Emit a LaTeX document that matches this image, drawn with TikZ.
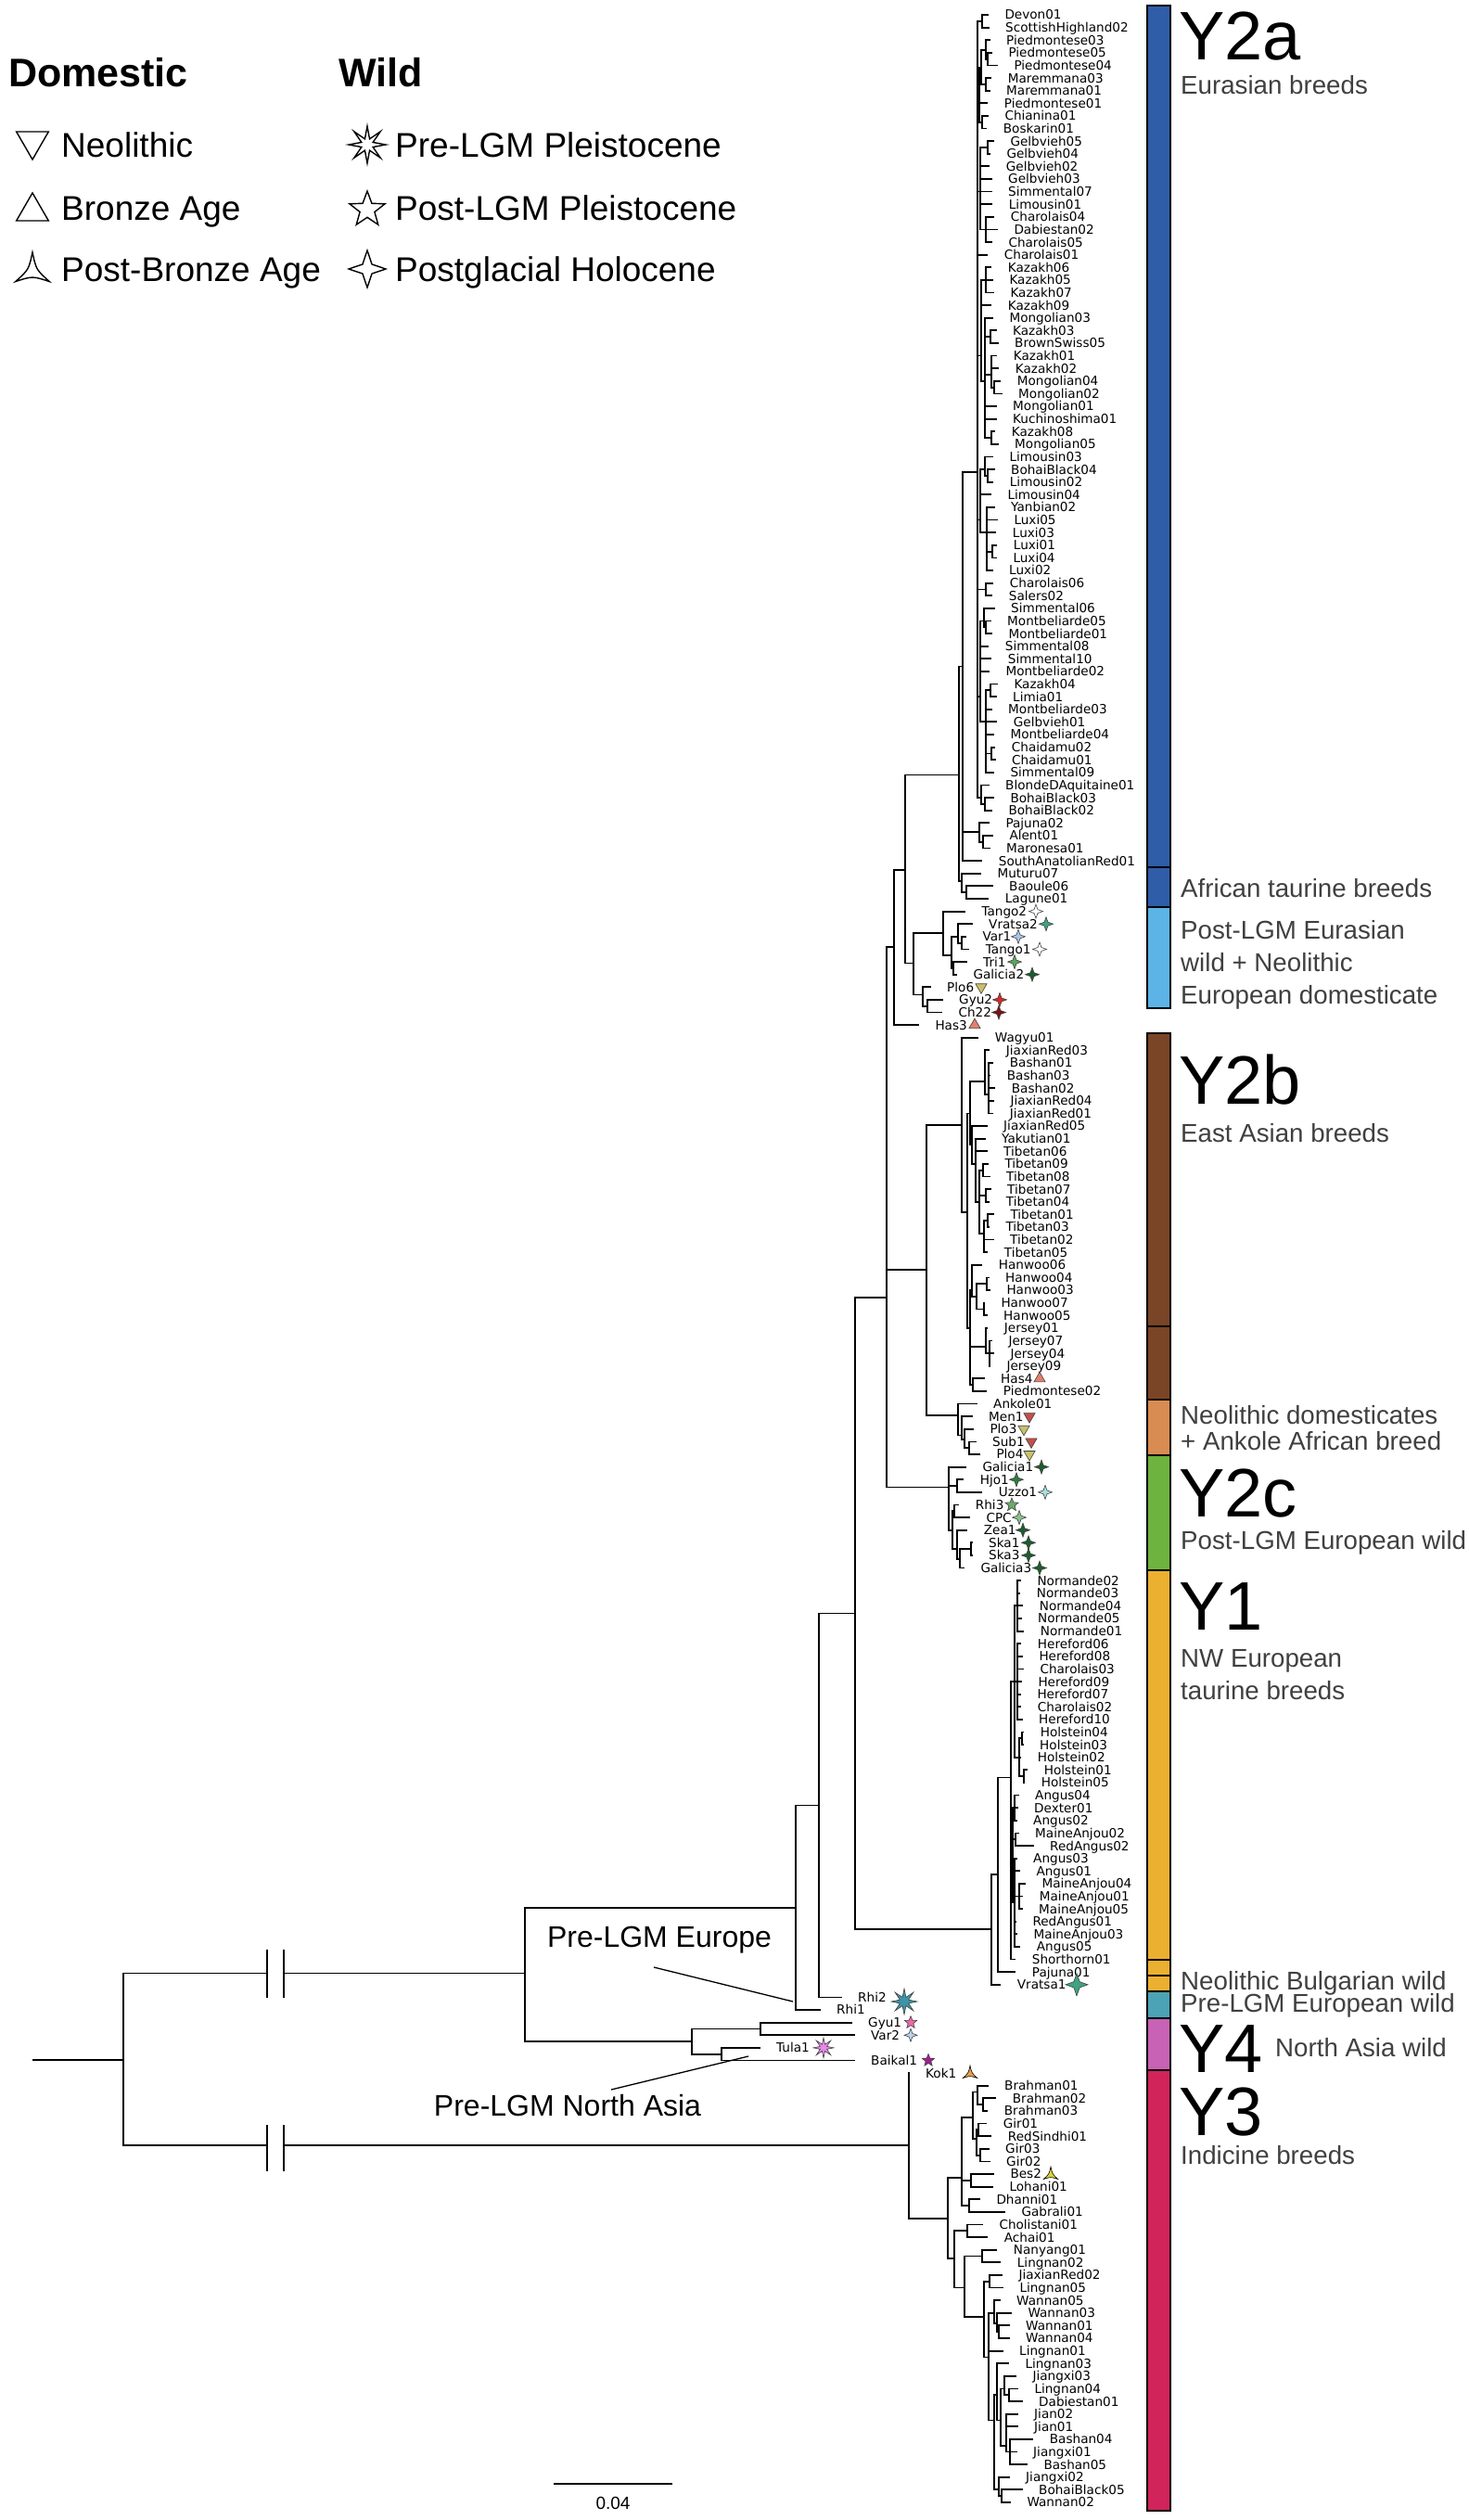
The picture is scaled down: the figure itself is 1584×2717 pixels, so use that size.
\documentclass[tikz,border=0pt]{standalone}
\usepackage{fontspec}
\setmainfont{Liberation Sans}
\newfontfamily\leaffont{DejaVu Sans}
\usetikzlibrary{shapes.geometric}
\definecolor{cYa}{HTML}{2F5DA8}
\definecolor{cLB}{HTML}{5BB4E5}
\definecolor{cBr}{HTML}{7A4527}
\definecolor{cNeo}{HTML}{D98C52}
\definecolor{cYc}{HTML}{6DB33F}
\definecolor{cYone}{HTML}{EBB030}
\definecolor{cTeal}{HTML}{4BA3B5}
\definecolor{cPink}{HTML}{C862B4}
\definecolor{cYthree}{HTML}{D0245A}
\definecolor{gtxt}{HTML}{404040}
\definecolor{mVr}{HTML}{3FA37F}
\definecolor{mVar}{HTML}{A9C6E8}
\definecolor{mTri}{HTML}{5CA55C}
\definecolor{mGal}{HTML}{1E5C2C}
\definecolor{mOl}{HTML}{C9C168}
\definecolor{mRed}{HTML}{D42A2A}
\definecolor{mDRed}{HTML}{7A1414}
\definecolor{mSal}{HTML}{E2806E}
\definecolor{mBrick}{HTML}{C0504D}
\definecolor{mHjo}{HTML}{2E7D3E}
\definecolor{mUz}{HTML}{A5E0E0}
\definecolor{mRhiT}{HTML}{6BAA6B}
\definecolor{mCPC}{HTML}{8DC28D}
\definecolor{mRhiB}{HTML}{3C95A8}
\definecolor{mGyu}{HTML}{EE6AA7}
\definecolor{mVarB}{HTML}{BDD3EC}
\definecolor{mTula}{HTML}{E58AE5}
\definecolor{mBaik}{HTML}{9E1F8E}
\definecolor{mKok}{HTML}{E8A04E}
\definecolor{mBes}{HTML}{D8D43E}
\tikzset{
  br/.style={line width=1.8pt},
  thinln/.style={line width=1.3pt},
  leaf/.style={anchor=west, inner sep=0pt, text height=9.9pt, text depth=0pt,
    font=\leaffont\fontsize{13.6pt}{14pt}\selectfont},
  mkbase/.style={inner sep=0pt, draw=black!75, line width=0.6pt},
  mkfour/.style={mkbase, star, star points=4, star point ratio=2.7, minimum size=15pt},
  mkfive/.style={mkbase, star, star points=5, star point ratio=2.3, minimum size=15pt},
  mkeight/.style={mkbase, star, star points=8, star point ratio=2.8, minimum size=22pt},
  mkup/.style={mkbase, regular polygon, regular polygon sides=3, minimum size=14pt},
  mkdown/.style={mkup, shape border rotate=180},
  legsym/.style={inner sep=0pt, draw=black, line width=1.4pt, fill=white},
  legtxt/.style={anchor=west, inner sep=0pt, text height=26.5pt, text depth=0pt,
    font=\fontsize{37pt}{40pt}\selectfont},
  hdr/.style={anchor=west, inner sep=0pt, text height=31pt, text depth=0pt,
    font=\bfseries\fontsize{43pt}{46pt}\selectfont},
  bigY/.style={anchor=west, inner sep=0pt, text height=53pt, text depth=0pt,
    font=\fontsize{74pt}{78pt}\selectfont},
  grey/.style={anchor=west, inner sep=0pt, text height=19.8pt, text depth=0pt, text=gtxt,
    font=\fontsize{27.7pt}{30pt}\selectfont},
  treelbl/.style={inner sep=0pt, text height=23pt, text depth=0pt,
    font=\fontsize{32pt}{34pt}\selectfont},
  bar/.style={line width=1.6pt, draw=black}
}
\newcommand\Lf[4]{%
  \pgfmathsetmacro\yy{16+13.614*#1}%
  \coordinate (t#3) at ({#2-17.5},\yy);%
  \node[leaf] (#3) at (#2,\yy) {#3};%
  \draw[br] (#4) |- (t#3);%
}
\newcommand\Nd[4]{%
  \pgfmathsetmacro\yy{16+13.614*#3}%
  \coordinate (#1) at (#2,\yy);%
  \draw[br] (#4) |- (#1);%
}
\newcommand\Mk[4]{%
  \pgfmathsetmacro\yy{16+13.614*#3}%
  \node[#4] (m#1) at (#2,\yy) {};%
}
\newcommand\TriS[6]{% name, x, y(px), radius, fill, line width
  \coordinate (#1) at (#2,#3);%
  \begin{scope}[shift={(#1)}]
    \filldraw[fill=#5, draw=black, line width=#6] (90:#4pt) .. controls (150:0.22*#4pt) .. (210:#4pt)
      .. controls (270:0.22*#4pt) .. (330:#4pt) .. controls (30:0.22*#4pt) .. cycle;
  \end{scope}%
}
\begin{document}
\begin{tikzpicture}[x=1pt,y=-1pt]
\fill[white] (0,0) rectangle (1584,2717);
\path[use as bounding box] (0,0) rectangle (1584,2717);

% ---------------- legend ----------------
\node[hdr] (hDom) at (9,78) {Domestic};
\node[hdr] (hWild) at (365,78) {Wild};
\node[legsym, regular polygon, regular polygon sides=3, shape border rotate=180, minimum size=40pt] (sNeo) at (35,152) {};
\node[legsym, regular polygon, regular polygon sides=3, minimum size=40pt] (sBro) at (35,228) {};
\TriS{sPost}{35}{293}{21}{white}{1.4pt}
\node[legtxt] (tNeo) at (66,156) {Neolithic};
\node[legtxt] (tBro) at (66,224) {Bronze Age};
\node[legtxt] (tPost) at (66,290) {Post-Bronze Age};
\node[legsym, star, star points=8, star point ratio=3, minimum size=40pt] (sPre) at (396,156) {};
\node[legsym, star, star points=5, star point ratio=2.4, minimum size=40pt] (sPostL) at (396,226) {};
\node[legsym, star, star points=4, star point ratio=2.8, minimum size=40pt] (sHol) at (396,290) {};
\node[legtxt] (tPre) at (426,156) {Pre-LGM Pleistocene};
\node[legtxt] (tPostL) at (426,224) {Post-LGM Pleistocene};
\node[legtxt] (tHol) at (426,290) {Postglacial Holocene};

% ---------------- colour bars ----------------
\draw[bar, fill=cYa] (1237,6) rectangle (1262,935);
\draw[bar, fill=cYa] (1237,935) rectangle (1262,978);
\draw[bar, fill=cLB] (1237,978) rectangle (1262,1087);
\draw[bar, fill=cBr] (1237,1114) rectangle (1262,1430);
\draw[bar, fill=cBr] (1237,1430) rectangle (1262,1509);
\draw[bar, fill=cNeo] (1237,1509) rectangle (1262,1569);
\draw[bar, fill=cYc] (1237,1569) rectangle (1262,1693);
\draw[bar, fill=cYone] (1237,1693) rectangle (1262,2113);
\draw[bar, fill=cYone] (1237,2113) rectangle (1262,2130);
\draw[bar, fill=cYone] (1237,2130) rectangle (1262,2147);
\draw[bar, fill=cTeal] (1237,2147) rectangle (1262,2176);
\draw[bar, fill=cPink] (1237,2176) rectangle (1262,2232);
\draw[bar, fill=cYthree] (1237,2232) rectangle (1262,2707);

% ---------------- clade labels ----------------
\node[bigY] (lY2a) at (1271,38) {Y2a};
\node[grey] (gEur) at (1273,92) {Eurasian breeds};
\node[grey] (gAfr) at (1273,958) {African taurine breeds};
\node[grey] (gPL1) at (1273,1003) {Post-LGM Eurasian};
\node[grey] (gPL2) at (1273,1038) {wild + Neolithic};
\node[grey] (gPL3) at (1273,1073) {European domesticate};
\node[bigY] (lY2b) at (1271,1164) {Y2b};
\node[grey] (gEA) at (1273,1222) {East Asian breeds};
\node[grey] (gNeo1) at (1273,1526) {Neolithic domesticates};
\node[grey] (gNeo2) at (1273,1554) {+ Ankole African breed};
\node[bigY] (lY2c) at (1271,1609) {Y2c};
\node[grey] (gPLE) at (1273,1661) {Post-LGM European wild};
\node[bigY] (lY1) at (1271,1731) {Y1};
\node[grey] (gNW1) at (1273,1788) {NW European};
\node[grey] (gNW2) at (1273,1823) {taurine breeds};
\node[grey] (gNBW) at (1273,2136) {Neolithic Bulgarian wild};
\node[grey] (gPEW) at (1273,2160) {Pre-LGM European wild};
\node[bigY] (lY4) at (1271,2208) {Y4};
\node[grey] (gNAW) at (1375,2208) {North Asia wild};
\node[bigY] (lY3) at (1271,2276) {Y3};
\node[grey] (gInd) at (1273,2324) {Indicine breeds};

% ---------------- backbone ----------------
\coordinate (R0) at (35,2221);
\coordinate (N0) at (133,2221);
\draw[br] (R0) -- (N0);
\Nd{NA}{566}{155.1}{N0}
\Nd{NY3}{980}{168.7}{N0}
% break marks
\fill[white] (289,2120) rectangle (305,2136);
\fill[white] (289,2305) rectangle (305,2321);
\draw[thinln] (288,2102) -- (288,2154) (306,2102) -- (306,2154);
\draw[thinln] (288,2291) -- (288,2341) (306,2291) -- (306,2341);

\Nd{NE}{858}{149.9}{NA}
\Nd{NNA}{746}{160.5}{NA}
\Nd{NGV}{820}{159.5}{NNA}
\Nd{NTB}{778}{161.5}{NNA}
\Nd{NE2}{883}{141.8}{NE}
\Nd{NY12}{922}{126.6}{NE2}
\Nd{NY2}{956}{101.6}{NY12}
\Nd{NY1o}{1069}{151.6}{NY12}
\Nd{NY1p}{1076}{147.3}{NY1o}
\Nd{NY1}{1090}{139.6}{NY1p}
% Y1
\Nd{NY1a}{1094}{132}{NY1}
\Nd{NNo}{1097}{126}{NY1a}
\Nd{NHe}{1097}{132}{NY1a}
\Nd{NHo}{1099}{138}{NY1a}
\Nd{NHo2}{1102}{136.5}{NHo}
\Nd{NHo3}{1104}{139.5}{NHo}
\Nd{NY1b}{1092}{147.5}{NY1}
\Nd{NAn1}{1094}{142}{NY1b}
\Nd{NAn2}{1095}{144.5}{NY1b}
\Nd{NAn3}{1094}{149.5}{NY1b}
\Nd{NMA}{1099}{149}{NAn3}
% Y2 complex
\Nd{NB}{964}{73.8}{NY2}
\Nd{NY2bN}{999}{99.4}{NY2}
\Nd{NY2c}{1023}{116.6}{NY2}
\Nd{NC}{976}{67.7}{NB}
\Nd{NEa}{1034}{60.2}{NC}
\Nd{ND}{985}{75.1}{NC}
\Nd{NW}{1017}{72.7}{ND}
\Nd{NPG}{995}{77.6}{ND}
\Nd{NGC}{1000}{78.5}{NPG}
\Nd{NW2}{1026}{74.5}{NW}
\Nd{NW3}{1033}{73}{NW2}
\Nd{NW4}{1028}{75.5}{NW2}
\Nd{NW5}{1037}{73.5}{NW3}
\Nd{NF}{1038}{51.6}{NEa}
\Nd{NAf}{1037}{68.6}{NEa}
\Nd{NAf2}{1042}{69.5}{NAf}
\Nd{NPAM}{1056}{64.7}{NF}
\Nd{NAM}{1060}{65.5}{NPAM}
\Nd{NG}{1054}{36.2}{NF}
\Nd{NDS}{1059}{0.5}{NG}
\Nd{NGa}{1056}{6.5}{NG}
\Nd{NPM}{1058}{4.2}{NGa}
\Nd{NP}{1063}{2.8}{NPM}
\Nd{NP2}{1065}{3.5}{NP}
\Nd{NM}{1063}{5.5}{NPM}
\Nd{NCB}{1059}{8.5}{NGa}
\Nd{NGb}{1057}{14}{NG}
\Nd{NGv2}{1065}{10.5}{NGb}
\Nd{NCD}{1063}{17}{NGb}
\Nd{NGc}{1058}{27}{NG}
\Nd{NK1}{1063}{21}{NGc}
\Nd{NK2}{1062}{29}{NGc}
\Nd{NKB}{1068}{25.5}{NK2}
\Nd{NKM}{1069}{28.5}{NK2}
\Nd{NMM}{1072}{29.5}{NKM}
\Nd{NKM5}{1069}{33.5}{NK2}
\Nd{NGd}{1057}{40}{NG}
\Nd{NLB}{1062}{36}{NGd}
\Nd{NBL2}{1065}{36.5}{NLB}
\Nd{NYL}{1064}{41}{NGd}
\Nd{NLx}{1070}{42.5}{NYL}
\Nd{NGe}{1063}{45.5}{NG}
\Nd{NGf}{1057}{54}{NG}
\Nd{NSM}{1061}{48}{NGf}
\Nd{NSM2}{1063}{48.5}{NSM}
\Nd{NKL}{1063}{56}{NGf}
\Nd{NKL2}{1068}{53.5}{NKL}
\Nd{NCh}{1069}{58.5}{NKL}
\Nd{NGg}{1058}{62}{NG}
\Nd{NBB}{1062}{62.5}{NGg}
% Y2b + Neolithic
\Nd{NY2b}{1037}{87.9}{NY2bN}
\Nd{NNeo}{1033}{110.9}{NY2bN}
\Nd{NNeo2}{1037}{112.5}{NNeo}
\Nd{NNeo3}{1040}{112.8}{NNeo2}
\Nd{NNeo4}{1045}{113.5}{NNeo3}
\Nd{NY2b2}{1043}{94.8}{NY2b}
\Nd{NA1}{1046}{87}{NY2b2}
\Nd{NA2}{1046}{104}{NY2b2}
\Nd{NJX}{1062}{84.5}{NA1}
\Nd{NJX2}{1066}{85.5}{NJX}
\Nd{NTi}{1048}{89.5}{NA1}
\Nd{NTi2}{1052}{91}{NTi}
\Nd{NTi3}{1056}{94}{NTi2}
\Nd{NT98}{1060}{91.5}{NTi3}
\Nd{NT74}{1063}{93.5}{NTi3}
\Nd{NT1}{1061}{96.5}{NTi3}
\Nd{NT13}{1065}{95.5}{NT1}
\Nd{NHw}{1048}{101}{NA2}
\Nd{NHw2}{1053}{101.5}{NHw}
\Nd{NHw3}{1064}{100.5}{NHw2}
\Nd{NHw4}{1061}{102.5}{NHw2}
\Nd{NJe}{1063}{105.5}{NA2}
\Nd{NJe2}{1067}{106}{NJe}
\Nd{NHP}{1049}{108.5}{NA2}
% Y2c
\Nd{NHU}{1032}{116.5}{NY2c}
\Nd{NY2c2}{1027}{120}{NY2c}
\Nd{NRC}{1029}{118.5}{NY2c2}
\Nd{NZS}{1032}{121.5}{NY2c2}
\Nd{NSG}{1035}{122.3}{NZS}
\Nd{NSk}{1047}{121.5}{NSG}
% Y3
\Nd{NY3b}{1022}{174.5}{NY3}
\Nd{NInd}{1037}{171.3}{NY3b}
\Nd{NBG}{1049}{166.5}{NInd}
\Nd{NBr}{1054}{164.5}{NBG}
\Nd{NBr2}{1060}{165.5}{NBr}
\Nd{NGir}{1053}{168.2}{NBG}
\Nd{NGr1}{1055}{167.5}{NGir}
\Nd{NGr2}{1057}{169.5}{NGir}
\Nd{NBes}{1047}{171.5}{NInd}
\Nd{NDG}{1045}{173.5}{NInd}
\Nd{NChin}{1029}{177.7}{NY3b}
\Nd{NCA}{1043}{175.5}{NChin}
\Nd{NCh2}{1040}{180}{NChin}
\Nd{NNL}{1059}{177.5}{NCh2}
\Nd{NCh3}{1061}{182.3}{NCh2}
\Nd{NJL}{1067}{179.5}{NCh3}
\Nd{NCh4}{1066}{185.5}{NCh3}
\Nd{NWn}{1072}{182}{NCh4}
\Nd{NW2n}{1075}{182.8}{NWn}
\Nd{NW3n}{1077}{183.5}{NW2n}
\Nd{NL}{1072}{190.5}{NCh4}
\Nd{NL2}{1075}{188.5}{NL}
\Nd{NL3}{1079}{190.5}{NL2}
\Nd{NJL4}{1083}{188}{NL3}
\Nd{NLD}{1088}{188.5}{NJL4}
\Nd{NJJ}{1085}{192.5}{NL3}
\Nd{NBJ}{1089}{193}{NJJ}
\Nd{NJB}{1077}{196}{NL}
\Nd{NJB2}{1080}{196.5}{NJB}

% ---------------- leaves ----------------
\Lf{0}{1083.3}{Devon01}{NDS}
\Lf{1}{1084}{ScottishHighland02}{NDS}
\Lf{2}{1085}{Piedmontese03}{NP}
\Lf{3}{1087.3}{Piedmontese05}{NP2}
\Lf{4}{1093.3}{Piedmontese04}{NP2}
\Lf{5}{1086.7}{Maremmana03}{NM}
\Lf{6}{1085}{Maremmana01}{NM}
\Lf{7}{1082.7}{Piedmontese01}{NGa}
\Lf{8}{1083.3}{Chianina01}{NCB}
\Lf{9}{1081.7}{Boskarin01}{NCB}
\Lf{10}{1089.3}{Gelbvieh05}{NGv2}
\Lf{11}{1085.3}{Gelbvieh04}{NGv2}
\Lf{12}{1084.7}{Gelbvieh02}{NGb}
\Lf{13}{1087}{Gelbvieh03}{NGb}
\Lf{14}{1087}{Simmental07}{NGb}
\Lf{15}{1087.7}{Limousin01}{NGb}
\Lf{16}{1089.7}{Charolais04}{NCD}
\Lf{17}{1093.3}{Dabiestan02}{NCD}
\Lf{18}{1087.3}{Charolais05}{NCD}
\Lf{19}{1082.7}{Charolais01}{NG}
\Lf{20}{1086.7}{Kazakh06}{NK1}
\Lf{21}{1088.3}{Kazakh05}{NK1}
\Lf{22}{1089.3}{Kazakh07}{NK1}
\Lf{23}{1086.7}{Kazakh09}{NGc}
\Lf{24}{1088.3}{Mongolian03}{NK2}
\Lf{25}{1092}{Kazakh03}{NKB}
\Lf{26}{1094}{BrownSwiss05}{NKB}
\Lf{27}{1092.7}{Kazakh01}{NKM}
\Lf{28}{1094.7}{Kazakh02}{NKM}
\Lf{29}{1096.7}{Mongolian04}{NMM}
\Lf{30}{1098}{Mongolian02}{NMM}
\Lf{31}{1092}{Mongolian01}{NK2}
\Lf{32}{1092}{Kuchinoshima01}{NK2}
\Lf{33}{1090.7}{Kazakh08}{NKM5}
\Lf{34}{1094}{Mongolian05}{NKM5}
\Lf{35}{1088.3}{Limousin03}{NLB}
\Lf{36}{1090}{BohaiBlack04}{NBL2}
\Lf{37}{1088.7}{Limousin02}{NBL2}
\Lf{38}{1086.3}{Limousin04}{NGd}
\Lf{39}{1090}{Yanbian02}{NYL}
\Lf{40}{1093.3}{Luxi05}{NYL}
\Lf{41}{1091.7}{Luxi03}{NYL}
\Lf{42}{1092.7}{Luxi01}{NLx}
\Lf{43}{1092.3}{Luxi04}{NLx}
\Lf{44}{1088}{Luxi02}{NYL}
\Lf{45}{1088.7}{Charolais06}{NGe}
\Lf{46}{1087.7}{Salers02}{NGe}
\Lf{47}{1090}{Simmental06}{NSM}
\Lf{48}{1086}{Montbeliarde05}{NSM2}
\Lf{49}{1087.3}{Montbeliarde01}{NSM2}
\Lf{50}{1083.7}{Simmental08}{NGf}
\Lf{51}{1086.7}{Simmental10}{NGf}
\Lf{52}{1084.3}{Montbeliarde02}{NGf}
\Lf{53}{1093.3}{Kazakh04}{NKL2}
\Lf{54}{1092}{Limia01}{NKL2}
\Lf{55}{1087}{Montbeliarde03}{NKL}
\Lf{56}{1092.7}{Gelbvieh01}{NKL}
\Lf{57}{1089.3}{Montbeliarde04}{NKL}
\Lf{58}{1090.7}{Chaidamu02}{NCh}
\Lf{59}{1091}{Chaidamu01}{NCh}
\Lf{60}{1089.3}{Simmental09}{NKL}
\Lf{61}{1084}{BlondeDAquitaine01}{NGg}
\Lf{62}{1089.3}{BohaiBlack03}{NBB}
\Lf{63}{1087.3}{BohaiBlack02}{NBB}
\Lf{64}{1084.3}{Pajuna02}{NPAM}
\Lf{65}{1088.3}{Alent01}{NAM}
\Lf{66}{1085}{Maronesa01}{NAM}
\Lf{67}{1076.7}{SouthAnatolianRed01}{NF}
\Lf{68}{1075.3}{Muturu07}{NAf}
\Lf{69}{1088}{Baoule06}{NAf2}
\Lf{70}{1083.7}{Lagune01}{NAf2}
\Lf{71}{1058.3}{Tango2}{NW}
\Lf{72}{1066}{Vratsa2}{NW3}
\Lf{73}{1059.3}{Var1}{NW5}
\Lf{74}{1062.7}{Tango1}{NW5}
\Lf{75}{1060}{Tri1}{NW4}
\Lf{76}{1049.3}{Galicia2}{NW4}
\Lf{77}{1021}{Plo6}{NPG}
\Lf{78}{1034}{Gyu2}{NGC}
\Lf{79}{1033.3}{Ch22}{NGC}
\Lf{80}{1008.3}{Has3}{NB}
\Lf{81}{1072.7}{Wagyu01}{NY2b}
\Lf{82}{1084.7}{JiaxianRed03}{NJX}
\Lf{83}{1088.7}{Bashan01}{NJX2}
\Lf{84}{1085.7}{Bashan03}{NJX2}
\Lf{85}{1090.7}{Bashan02}{NJX2}
\Lf{86}{1089.3}{JiaxianRed04}{NJX2}
\Lf{87}{1088.7}{JiaxianRed01}{NJX2}
\Lf{88}{1082}{JiaxianRed05}{NTi}
\Lf{89}{1080}{Yakutian01}{NTi2}
\Lf{90}{1082}{Tibetan06}{NTi2}
\Lf{91}{1083.3}{Tibetan09}{NT98}
\Lf{92}{1085}{Tibetan08}{NT98}
\Lf{93}{1086}{Tibetan07}{NT74}
\Lf{94}{1084.7}{Tibetan04}{NT74}
\Lf{95}{1089.3}{Tibetan01}{NT13}
\Lf{96}{1084.3}{Tibetan03}{NT13}
\Lf{97}{1089}{Tibetan02}{NT1}
\Lf{98}{1082.7}{Tibetan05}{NT1}
\Lf{99}{1076.7}{Hanwoo06}{NHw}
\Lf{100}{1084}{Hanwoo04}{NHw3}
\Lf{101}{1085.3}{Hanwoo03}{NHw3}
\Lf{102}{1079.3}{Hanwoo07}{NHw4}
\Lf{103}{1082}{Hanwoo05}{NHw4}
\Lf{104}{1082.7}{Jersey01}{NJe}
\Lf{105}{1087.3}{Jersey07}{NJe2}
\Lf{106}{1089.3}{Jersey04}{NJe2}
\Lf{107}{1085.3}{Jersey09}{NJe2}
\Lf{108}{1079}{Has4}{NHP}
\Lf{109}{1081.7}{Piedmontese02}{NHP}
\Lf{110}{1071}{Ankole01}{NNeo}
\Lf{111}{1066}{Men1}{NNeo2}
\Lf{112}{1067.3}{Plo3}{NNeo3}
\Lf{113}{1070}{Sub1}{NNeo4}
\Lf{114}{1074.3}{Plo4}{NNeo4}
\Lf{115}{1059.3}{Galicia1}{NY2c}
\Lf{116}{1056.7}{Hjo1}{NHU}
\Lf{117}{1076.7}{Uzzo1}{NHU}
\Lf{118}{1051.7}{Rhi3}{NRC}
\Lf{119}{1063.3}{CPC}{NRC}
\Lf{120}{1060.7}{Zea1}{NZS}
\Lf{121}{1066}{Ska1}{NSk}
\Lf{122}{1066}{Ska3}{NSk}
\Lf{123}{1057.3}{Galicia3}{NSG}
\Lf{124}{1118.3}{Normande02}{NNo}
\Lf{125}{1117.7}{Normande03}{NNo}
\Lf{126}{1120.7}{Normande04}{NNo}
\Lf{127}{1119}{Normande05}{NNo}
\Lf{128}{1121.7}{Normande01}{NNo}
\Lf{129}{1118.7}{Hereford06}{NHe}
\Lf{130}{1120.3}{Hereford08}{NHe}
\Lf{131}{1121.3}{Charolais03}{NHe}
\Lf{132}{1119.3}{Hereford09}{NHe}
\Lf{133}{1118.3}{Hereford07}{NHe}
\Lf{134}{1118.7}{Charolais02}{NHe}
\Lf{135}{1120}{Hereford10}{NHe}
\Lf{136}{1121.7}{Holstein04}{NHo2}
\Lf{137}{1121}{Holstein03}{NHo2}
\Lf{138}{1118.7}{Holstein02}{NHo}
\Lf{139}{1125.7}{Holstein01}{NHo3}
\Lf{140}{1122.7}{Holstein05}{NHo3}
\Lf{141}{1116}{Angus04}{NAn1}
\Lf{142}{1115}{Dexter01}{NAn1}
\Lf{143}{1114}{Angus02}{NAn1}
\Lf{144}{1116}{MaineAnjou02}{NAn2}
\Lf{145}{1132}{RedAngus02}{NAn2}
\Lf{146}{1114}{Angus03}{NAn3}
\Lf{147}{1117.3}{Angus01}{NAn3}
\Lf{148}{1123.3}{MaineAnjou04}{NMA}
\Lf{149}{1120.7}{MaineAnjou01}{NMA}
\Lf{150}{1120}{MaineAnjou05}{NMA}
\Lf{151}{1113.3}{RedAngus01}{NAn3}
\Lf{152}{1114.3}{MaineAnjou03}{NAn3}
\Lf{153}{1117.7}{Angus05}{NAn3}
\Lf{154}{1112.7}{Shorthorn01}{NY1}
\Lf{155}{1112.7}{Pajuna01}{NY1p}
\Lf{156}{1096.7}{Vratsa1}{NY1o}
\Lf{157}{925}{Rhi2}{NE2}
\Lf{158}{902}{Rhi1}{NE}
\Lf{159}{936}{Gyu1}{NGV}
\Lf{160}{939}{Var2}{NGV}
\Lf{161}{837}{Tula1}{NTB}
\Lf{162}{939}{Baikal1}{NTB}
\Lf{163}{998}{Kok1}{NY3}
\Lf{164}{1083}{Brahman01}{NBr}
\Lf{165}{1091.7}{Brahman02}{NBr2}
\Lf{166}{1082.7}{Brahman03}{NBr2}
\Lf{167}{1081.7}{Gir01}{NGr1}
\Lf{168}{1086.7}{RedSindhi01}{NGr1}
\Lf{169}{1084}{Gir03}{NGr2}
\Lf{170}{1085}{Gir02}{NGr2}
\Lf{171}{1089.3}{Bes2}{NBes}
\Lf{172}{1088.3}{Lohani01}{NBes}
\Lf{173}{1074.3}{Dhanni01}{NDG}
\Lf{174}{1101.3}{Gabrali01}{NDG}
\Lf{175}{1077.3}{Cholistani01}{NCA}
\Lf{176}{1082.7}{Achai01}{NCA}
\Lf{177}{1092.7}{Nanyang01}{NNL}
\Lf{178}{1096.7}{Lingnan02}{NNL}
\Lf{179}{1098.3}{JiaxianRed02}{NJL}
\Lf{180}{1099.3}{Lingnan05}{NJL}
\Lf{181}{1096}{Wannan05}{NWn}
\Lf{182}{1108.3}{Wannan03}{NW2n}
\Lf{183}{1106}{Wannan01}{NW3n}
\Lf{184}{1106}{Wannan04}{NW3n}
\Lf{185}{1099}{Lingnan01}{NCh4}
\Lf{186}{1105.3}{Lingnan03}{NL2}
\Lf{187}{1113.3}{Jiangxi03}{NJL4}
\Lf{188}{1115.3}{Lingnan04}{NLD}
\Lf{189}{1120}{Dabiestan01}{NLD}
\Lf{190}{1115}{Jian02}{NJJ}
\Lf{191}{1115}{Jian01}{NJJ}
\Lf{192}{1131.7}{Bashan04}{NBJ}
\Lf{193}{1114}{Jiangxi01}{NBJ}
\Lf{194}{1125.3}{Bashan05}{NBJ}
\Lf{195}{1106}{Jiangxi02}{NJB}
\Lf{196}{1120}{BohaiBlack05}{NJB2}
\Lf{197}{1107.3}{Wannan02}{NJB2}

% ---------------- sample markers ----------------
\Mk{Tango2}{1117}{71}{mkfour,fill=white}
\Mk{Vratsa2}{1128}{72}{mkfour,fill=mVr}
\Mk{Var1}{1098}{73}{mkfour,fill=mVar}
\Mk{Tango1}{1121}{74}{mkfour,fill=white}
\Mk{Tri1}{1094}{75}{mkfour,fill=mTri}
\Mk{Galicia2}{1113}{76}{mkfour,fill=mGal}
\Mk{Plo6}{1058}{77}{mkdown,fill=mOl}
\Mk{Gyu2}{1078}{78}{mkfour,fill=mRed}
\Mk{Ch22}{1077}{79}{mkfour,fill=mDRed}
\Mk{Has3}{1051}{80}{mkup,fill=mSal}
\Mk{Has4}{1121}{108}{mkup,fill=mSal}
\Mk{Men1}{1110}{111}{mkdown,fill=mBrick}
\Mk{Plo3}{1104}{112}{mkdown,fill=mOl}
\Mk{Sub1}{1112}{113}{mkdown,fill=mBrick}
\Mk{Plo4}{1110}{114}{mkdown,fill=mOl}
\Mk{Galicia1}{1123}{115}{mkfour,fill=mGal}
\Mk{Hjo1}{1096}{116}{mkfour,fill=mHjo}
\Mk{Uzzo1}{1127}{117}{mkfour,fill=mUz}
\Mk{Rhi3}{1091}{118}{mkfive,fill=mRhiT}
\Mk{CPC}{1099}{119}{mkfour,fill=mCPC}
\Mk{Zea1}{1103}{120}{mkfour,fill=mGal}
\Mk{Ska1}{1109}{121}{mkfour,fill=mGal}
\Mk{Ska3}{1109}{122}{mkfour,fill=mGal}
\Mk{Galicia3}{1121}{123}{mkfour,fill=mGal}
\Mk{Vratsa1}{1161}{156}{mkfour,fill=mVr,minimum size=24pt}
\node[mkeight, fill=mRhiB, minimum size=28pt] (mRhi2) at (975,2158) {};
\Mk{Gyu1}{982}{159}{mkfive,fill=mGyu,minimum size=14pt}
\Mk{Var2}{982}{160}{mkfour,fill=mVarB,minimum size=14pt}
\Mk{Tula1}{888}{161}{mkeight,fill=mTula}
\Mk{Baikal1}{1001}{162}{mkfive,fill=mBaik,minimum size=14pt}
\TriS{mKok1}{1046}{2236}{9}{mKok}{0.6pt}
\TriS{mBes2}{1133}{2345}{9}{mBes}{0.6pt}

% ---------------- tree annotations ----------------
\node[treelbl] (lPLE) at (711,2088) {Pre-LGM Europe};
\node[treelbl] (lPLNA) at (612,2270) {Pre-LGM North Asia};
\coordinate (pE1) at (705,2121);
\coordinate (pE2) at (855,2158);
\coordinate (pA1) at (659,2253);
\coordinate (pA2) at (807,2217);
\draw[thinln] (pE1) -- (pE2);
\draw[thinln] (pA1) -- (pA2);

% ---------------- scale bar ----------------
\coordinate (sb1) at (597,2678);
\coordinate (sb2) at (725,2678);
\draw[br] (sb1) -- (sb2);
\node[inner sep=0pt, font=\fontsize{19pt}{21pt}\selectfont] (lsb) at (661,2699) {0.04};
\end{tikzpicture}
\end{document}
